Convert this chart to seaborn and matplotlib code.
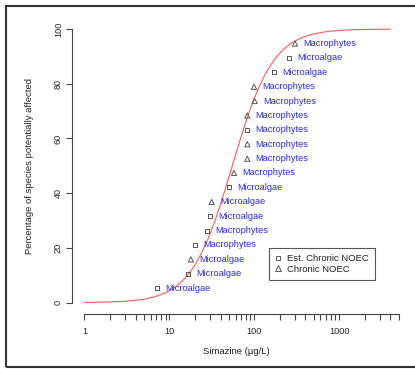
import numpy as np
import pandas as pd
import matplotlib
matplotlib.use("Agg")
import matplotlib.pyplot as plt
import seaborn as sns
from matplotlib.lines import Line2D
from matplotlib.patches import Rectangle

# ---------------- data ----------------
concentration = [7.2, 16.4, 17.9, 19.8, 27.7, 30.0, 31.4, 50.7, 57.6,
                 82.6, 82.6, 82.6, 82.6, 101.0, 99.0, 170.0, 258.0, 301.0]
pct_affected = [5.3, 10.5, 15.8, 21.1, 26.3, 31.6, 36.8, 42.1, 47.4,
                52.6, 57.9, 63.2, 68.4, 73.7, 78.9, 84.2, 89.5, 94.7]
data_type = ["Est. Chronic NOEC", "Est. Chronic NOEC", "Chronic NOEC",
             "Est. Chronic NOEC", "Est. Chronic NOEC", "Est. Chronic NOEC",
             "Chronic NOEC", "Est. Chronic NOEC", "Chronic NOEC",
             "Chronic NOEC", "Chronic NOEC", "Est. Chronic NOEC",
             "Chronic NOEC", "Chronic NOEC", "Chronic NOEC",
             "Est. Chronic NOEC", "Est. Chronic NOEC", "Chronic NOEC"]
taxon = ["Microalgae", "Microalgae", "Microalgae", "Macrophytes",
         "Macrophytes", "Microalgae", "Microalgae", "Microalgae",
         "Macrophytes", "Macrophytes", "Macrophytes", "Macrophytes",
         "Macrophytes", "Macrophytes", "Macrophytes", "Microalgae",
         "Microalgae", "Macrophytes"]

legend_labels = ["Est. Chronic NOEC", "Chronic NOEC"]

# fitted SSD curve (log-logistic), parameters
ssd_log10_median = 1.74
ssd_log10_scale = 0.24
curve_range = [1, 4000]

x_major_ticks = [1, 10, 100, 1000]
x_major_labels = ["1", "10", "100", "1000"]
x_minor_ticks = [2, 3, 4, 5, 6, 7, 8, 9, 20, 30, 40, 50, 60, 70, 80, 90,
                 200, 300, 400, 500, 600, 700, 800, 900, 2000, 3000, 4000, 5000]
y_ticks = [0, 20, 40, 60, 80, 100]
y_tick_labels = ["0", "20", "40", "60", "80", "100"]

x_label = "Simazine (µg/L)"
y_label = "Percentage of species potentially affected"

# ---------------- styling ----------------
sns.set_style("ticks")
plt.rcParams["font.family"] = ["Liberation Sans", "DejaVu Sans"]

W, H = 415, 369
fig = plt.figure(figsize=(W / 100, H / 100), dpi=100)
fig.patch.set_facecolor("white")

px_left, px_right, px_top, px_bottom = 72, 400.5, 18.1, 313.6
ax = fig.add_axes([px_left / W, 1 - px_bottom / H,
                   (px_right - px_left) / W, (px_bottom - px_top) / H])
ax.set_facecolor("white")
ax.set_xscale("log")

df = pd.DataFrame({"conc": concentration, "pct": pct_affected,
                   "type": data_type, "taxon": taxon})

# curve
lc = np.log10(curve_range)
xc = np.logspace(lc[0], lc[1], 500)
yc = 100.0 / (1.0 + np.exp(-(np.log10(xc) - ssd_log10_median) / ssd_log10_scale))
curve_df = pd.DataFrame({"x": xc, "y": yc})
sns.lineplot(data=curve_df, x="x", y="y", ax=ax, color="#ff6060",
             linewidth=0.85, estimator=None, sort=False, legend=False)

point_color = "#555555"
marker_spec = {"Est. Chronic NOEC": ("s", 8.5), "Chronic NOEC": ("^", 14)}
for typ in legend_labels:
    mk, sz = marker_spec[typ]
    sub = df[df["type"] == typ]
    sns.scatterplot(data=sub, x="conc", y="pct", marker=mk, s=sz, ax=ax,
                    legend=False, zorder=3)
    coll = ax.collections[-1]
    coll.set_facecolor("none")
    coll.set_edgecolor(point_color)
    coll.set_linewidth(0.7)

for c, p, t in zip(df["conc"], df["pct"], df["taxon"]):
    ax.annotate(t, (c, p), xytext=(6, 0), textcoords="offset points",
                ha="left", va="center", color="#2a2aff", fontsize=6.7,
                zorder=4)

ax.set_xlim(10 ** -0.147, 10 ** 3.7207)
ax.set_ylim(-4, 104)

ax.set_xticks(x_major_ticks)
ax.set_xticklabels(x_major_labels)
ax.set_xticks(x_minor_ticks, minor=True)
ax.xaxis.set_minor_formatter(matplotlib.ticker.NullFormatter())
ax.set_yticks(y_ticks)
ax.set_yticklabels(y_tick_labels, rotation=90, va="center")

axis_color = "#444444"
ax.tick_params(axis="both", which="both", length=4, width=0.8,
               color=axis_color, labelsize=6.6, labelcolor="#222222")
ax.tick_params(axis="x", which="both", pad=5.5)
ax.tick_params(axis="y", pad=2.5)

for s in ["top", "right"]:
    ax.spines[s].set_visible(False)
for s in ["left", "bottom"]:
    ax.spines[s].set_color(axis_color)
    ax.spines[s].set_linewidth(0.8)
ax.spines["left"].set_bounds(0, 100)
ax.spines["bottom"].set_bounds(1, 5000)
ax.grid(False)
ax.set_xlabel("")
ax.set_ylabel("")

fig.text(236.3 / W, 1 - 352 / H, x_label, ha="center", va="center",
         fontsize=6.8, color="#222222")
fig.text(30 / W, 1 - 166 / H, y_label, ha="center", va="center",
         rotation=90, fontsize=6.8, color="#222222")

handles = [
    Line2D([], [], marker="s", ls="none", mfc="none", mec=point_color,
           ms=2.9, mew=0.7),
    Line2D([], [], marker="^", ls="none", mfc="none", mec=point_color,
           ms=3.7, mew=0.7),
]
leg = fig.legend(handles, legend_labels, loc="upper left",
                 bbox_to_anchor=(269 / W, 1 - 248 / H),
                 bbox_transform=fig.transFigure, frameon=True, fancybox=False,
                 edgecolor="#555555", facecolor="white", framealpha=1,
                 fontsize=6.8, borderpad=0.65, handlelength=0.5,
                 handletextpad=0.72, labelspacing=0.15, borderaxespad=0)
leg.get_frame().set_linewidth(0.8)
for txt in leg.get_texts():
    txt.set_color("#222222")

fig.patches.append(Rectangle((5.5 / W, 1 - 367 / H), (420 - 5.5) / W,
                             (367 - 5.5) / H, transform=fig.transFigure,
                             fill=False, lw=1.5, ec="#333333"))

fig.savefig("out.png", dpi=100, facecolor="white")
